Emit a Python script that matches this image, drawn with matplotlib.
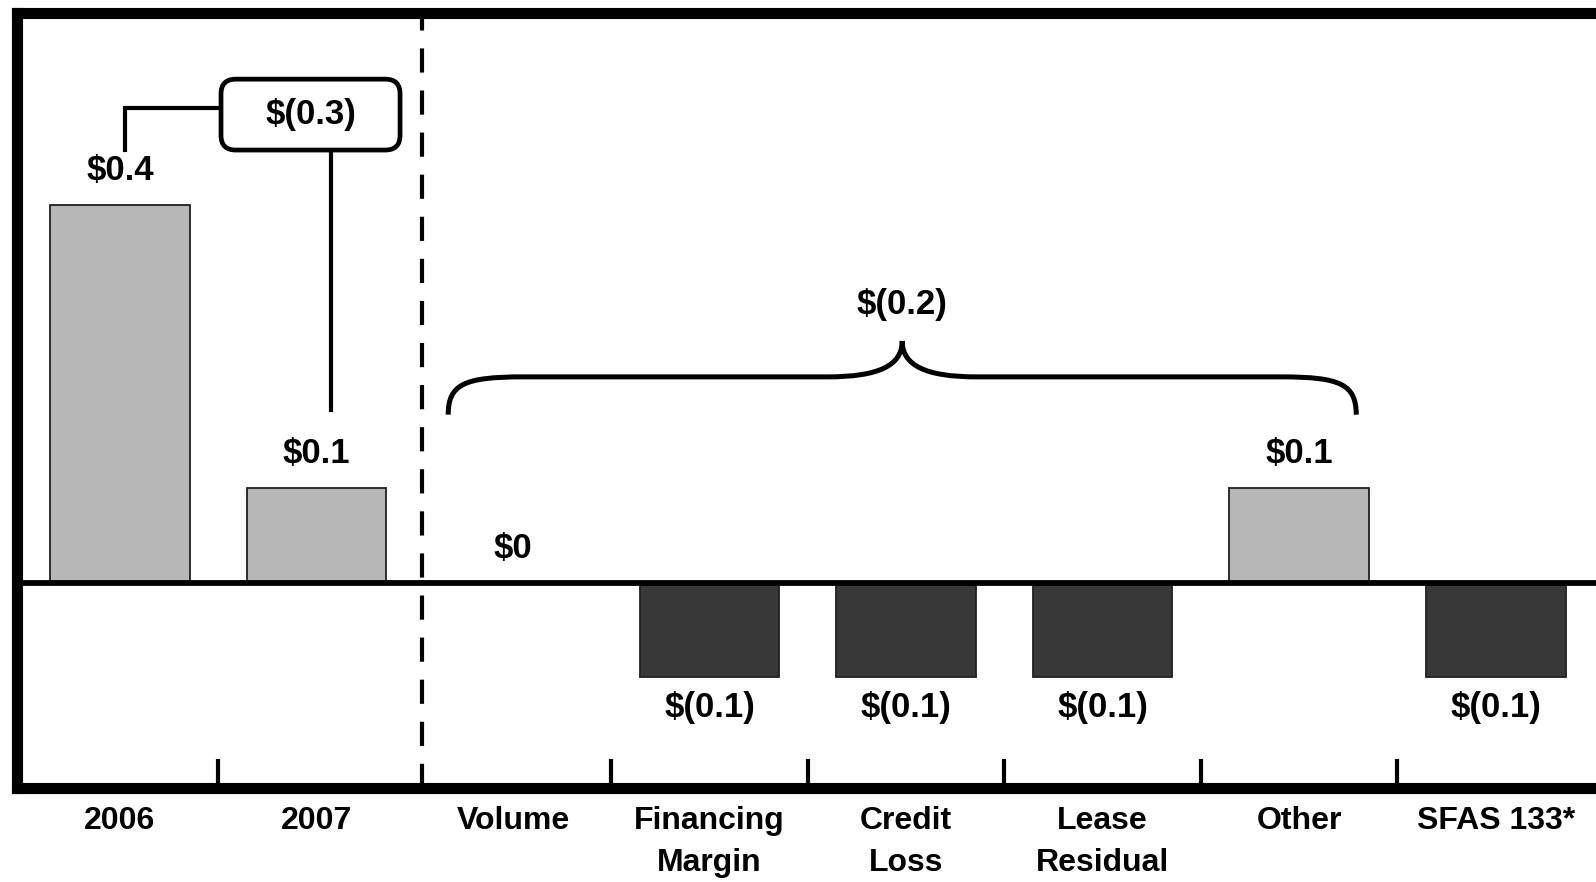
import matplotlib
matplotlib.use("Agg")
import matplotlib.pyplot as plt
from matplotlib import font_manager as fm
from matplotlib.patches import FancyBboxPatch, PathPatch
from matplotlib.path import Path

categories = ["2006", "2007", "Volume", "Financing\nMargin", "Credit\nLoss",
              "Lease\nResidual", "Other", "SFAS 133*"]
values = [0.4, 0.1, 0.0, -0.1, -0.1, -0.1, 0.1, -0.1]
bracket_span = (2, 6)          # Volume .. Other, summed under the brace

LIGHT = "#b7b7b7"
DARK = "#383838"

_names = {f.name for f in fm.fontManager.ttflist}
NARROW = "Liberation Sans Narrow" if "Liberation Sans Narrow" in _names else "Liberation Sans"
plt.rcParams["font.family"] = ["Liberation Sans", "DejaVu Sans"]
FS = 25
FS_CAT = 25 if NARROW == "Liberation Sans Narrow" else 23


def money(v):
    v = round(v, 1)
    if v == 0:
        return "$0"
    if v < 0:
        return f"$({abs(v):.1f})"
    return f"${v:.1f}"


fig = plt.figure(figsize=(15.96, 8.82), dpi=100)
ax = fig.add_axes([17 / 1596, 94 / 882, 1 - 17 / 1596, 775 / 882])
ax.set_xlim(-0.524, 7.51)
ax.set_ylim(-0.217, 0.603)

x = list(range(len(categories)))
colors = [LIGHT if v > 0 else DARK for v in values]
ax.bar(x, values, width=0.71, color=colors, edgecolor="#202020", linewidth=1.3, zorder=2)
ax.axhline(0, color="black", lw=4.2, zorder=3)

# value labels
for xi, v in zip(x, values):
    if v >= 0:
        ax.annotate(money(v), (xi, v), xytext=(0, 13), textcoords="offset points",
                    ha="center", va="bottom", fontsize=FS, fontweight="bold")
    else:
        ax.annotate(money(v), (xi, v), xytext=(0, -10), textcoords="offset points",
                    ha="center", va="top", fontsize=FS, fontweight="bold")

# spines / ticks
for s in ("left", "top", "bottom"):
    ax.spines[s].set_linewidth(8)
    ax.spines[s].set_capstyle("projecting")
ax.spines["right"].set_visible(False)
ax.set_yticks([])
ax.set_xticks(x)
ax.set_xticklabels(categories, fontsize=FS_CAT, fontweight="bold", family=NARROW,
                   linespacing=1.5)
ax.tick_params(axis="x", which="major", length=0, pad=13)
ax.set_xticks([0.5, 2.5, 3.5, 4.5, 5.5, 6.5], minor=True)
ax.tick_params(axis="x", which="minor", direction="in", length=21, width=3, color="black")

# divider between years and drivers
ax.axvline(1.535, color="black", lw=3, linestyle=(0, (5.8, 4.3)), zorder=1)

# year-over-year change box
change = values[1] - values[0]
ax.plot([0.025, 0.025, 0.514], [0.458, 0.503, 0.503], color="black", lw=3,
        solid_joinstyle="miter", zorder=4)
ax.plot([1.074, 1.074], [0.458, 0.183], color="black", lw=3, zorder=4)
box = FancyBboxPatch((0.514, 0.458), 0.911, 0.075,
                     boxstyle="round,pad=0,rounding_size=0.075",
                     mutation_aspect=196.5 / 945, facecolor="white",
                     edgecolor="black", lw=3.4, zorder=5)
ax.add_patch(box)
ax.text(0.97, 0.4955, money(change), ha="center", va="center", fontsize=FS,
        fontweight="bold", zorder=6)

# curly brace over the drivers
lo, hi = bracket_span
xl, xr = lo - 0.33, hi + 0.29
xm = (xl + xr) / 2
y_end, y_bar, y_tip = 0.178, 0.218, 0.256
rx = 0.38
verts = [
    (xl, y_end), (xl, y_bar - 0.008), (xl + 0.08, y_bar), (xl + rx, y_bar),
    (xm - rx, y_bar),
    (xm - 0.12, y_bar), (xm, y_bar + 0.012), (xm, y_tip),
    (xm, y_bar + 0.012), (xm + 0.12, y_bar), (xm + rx, y_bar),
    (xr - rx, y_bar),
    (xr - 0.08, y_bar), (xr, y_bar - 0.008), (xr, y_end),
]
codes = [Path.MOVETO, Path.CURVE4, Path.CURVE4, Path.CURVE4, Path.LINETO,
         Path.CURVE4, Path.CURVE4, Path.CURVE4, Path.CURVE4, Path.CURVE4, Path.CURVE4,
         Path.LINETO, Path.CURVE4, Path.CURVE4, Path.CURVE4]
ax.add_patch(PathPatch(Path(verts, codes), facecolor="none", edgecolor="black",
                       lw=3.6, zorder=4))
subtotal = sum(values[lo:hi + 1])
ax.text(xm, 0.295, money(subtotal), ha="center", va="center", fontsize=FS,
        fontweight="bold")

# heading sits just above the frame
fig.text(812 / 1596, 1 + 5 / 882, "($ billions)", ha="center", va="baseline",
         fontsize=18, fontweight="bold")

fig.savefig("out.png", dpi=100)
